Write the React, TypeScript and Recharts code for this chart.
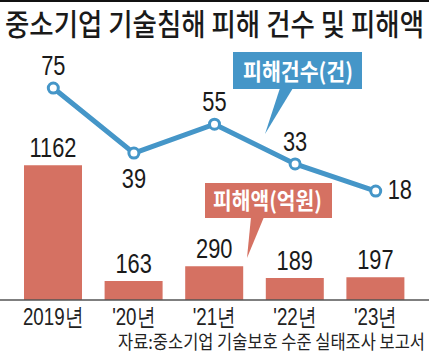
import { ComposedChart, Bar, Line, XAxis, YAxis, LabelList } from 'recharts'

// ── data ─────────────────────────────────────────────────────────────
const YEARS = ['2019년', "'20년", "'21년", "'22년", "'23년"]
const DAMAGE_COUNT = [75, 39, 55, 33, 18] // 피해건수(건)
const DAMAGE_AMOUNT = [1162, 163, 290, 189, 197] // 피해액(억원)

const TITLE = '중소기업 기술침해 피해 건수 및 피해액'
const SOURCE = '자료:중소기업 기술보호 수준 실태조사 보고서'

// where each line label sits relative to its point
const COUNT_LABEL_POS = ['top', 'bottom', 'top', 'top', 'right']

const BLUE = '#4596c8'
const RED = '#d57162'
const NUM_FONT = '"Liberation Sans", Arial, sans-serif'
const KR_FONT = '"Noto Sans CJK KR", "Noto Sans", sans-serif'
const SQUEEZE = 0.78 // the print face is a condensed grotesque

// condensed text: scaled horizontally around its anchor point
function NarrowText({ x, y, size, anchor = 'middle', fill = '#1a1a1a', children }: any) {
  return (
    <text
      transform={`translate(${x},${y}) scale(${SQUEEZE},1)`}
      textAnchor={anchor}
      fontSize={size}
      fill={fill}
      fontFamily={NUM_FONT}
    >
      {children}
    </text>
  )
}

const data = YEARS.map((year, i) => ({
  year,
  count: DAMAGE_COUNT[i],
  amount: DAMAGE_AMOUNT[i],
}))

function YearTick(props: any) {
  const { x, y, payload } = props
  return (
    <NarrowText x={x} y={y + 17} size={24} fill="#222">
      {payload.value}
    </NarrowText>
  )
}

function AmountLabel(props: any) {
  const { x, y, width, value } = props
  return (
    <NarrowText x={x + width / 2} y={y - 8} size={28}>
      {value}
    </NarrowText>
  )
}

function CountLabel(props: any) {
  const { x, y, value, index } = props
  const pos = COUNT_LABEL_POS[index]
  let tx = x
  let ty = y - 13
  let anchor = 'middle'
  if (pos === 'bottom') ty = y + 35
  if (pos === 'right') {
    tx = x + 12
    ty = y + 8
    anchor = 'start'
  }
  return (
    <NarrowText x={tx} y={ty} size={28} anchor={anchor}>
      {value}
    </NarrowText>
  )
}

export default function App() {
  return (
    <div style={{ position: 'relative', width: 429, height: 355, background: '#fff', overflow: 'hidden' }}>
      <style>{'body{margin:0}'}</style>
      <ComposedChart
        width={429}
        height={355}
        data={data}
        margin={{ top: 68, right: 13, bottom: 25, left: 13 }}
        style={{ position: 'absolute', left: 0, top: 0 }}
      >
        <XAxis dataKey="year" height={30} axisLine={false} tickLine={false} tick={<YearTick />} interval={0} />
        <YAxis yAxisId="amount" hide domain={[0, 2000]} />
        <YAxis yAxisId="count" hide domain={[-42.3, 86.1]} allowDataOverflow />
        <Bar yAxisId="amount" dataKey="amount" fill={RED} barSize={58} isAnimationActive={false}>
          <LabelList dataKey="amount" content={<AmountLabel />} />
        </Bar>
        <Line
          yAxisId="count"
          dataKey="count"
          stroke={BLUE}
          strokeWidth={5}
          dot={{ r: 5, fill: '#fff', stroke: BLUE, strokeWidth: 3 }}
          isAnimationActive={false}
        >
          <LabelList dataKey="count" content={<CountLabel />} />
        </Line>
      </ComposedChart>

      <svg
        width={429}
        height={355}
        style={{ position: 'absolute', left: 0, top: 0, pointerEvents: 'none' }}
      >
        <line x1={0} y1={1} x2={429} y2={1} stroke="#111" strokeWidth={2} />
        <text
          x={5}
          y={35}
          fontSize={30}
          fontWeight={500}
          fill="#1a1a1a"
          fontFamily={KR_FONT}
          textLength={419}
          lengthAdjust="spacingAndGlyphs"
        >
          {TITLE}
        </text>

        {/* 피해건수 callout */}
        <rect x={233} y={52} width={129} height={37} fill={BLUE} />
        <polygon points="280,88 293,88 265,134" fill={BLUE} />
        <text
          x={243}
          y={80}
          fontSize={23}
          fontWeight={700}
          fill="#fff"
          fontFamily={KR_FONT}
          textLength={110}
          lengthAdjust="spacingAndGlyphs"
        >
          피해건수(건)
        </text>

        {/* 피해액 callout */}
        <rect x={205} y={183} width={127} height={35} fill={RED} />
        <polygon points="251,217 264,217 247,258" fill={RED} />
        <text
          x={213}
          y={209}
          fontSize={23}
          fontWeight={700}
          fill="#fff"
          fontFamily={KR_FONT}
          textLength={109}
          lengthAdjust="spacingAndGlyphs"
        >
          피해액(억원)
        </text>

        <line x1={0} y1={300} x2={429} y2={300} stroke="#555" strokeWidth={1.5} />

        <text
          x={118}
          y={349}
          fontSize={19}
          fill="#222"
          fontFamily={KR_FONT}
          textLength={307}
          lengthAdjust="spacingAndGlyphs"
        >
          {SOURCE}
        </text>
      </svg>
    </div>
  )
}
